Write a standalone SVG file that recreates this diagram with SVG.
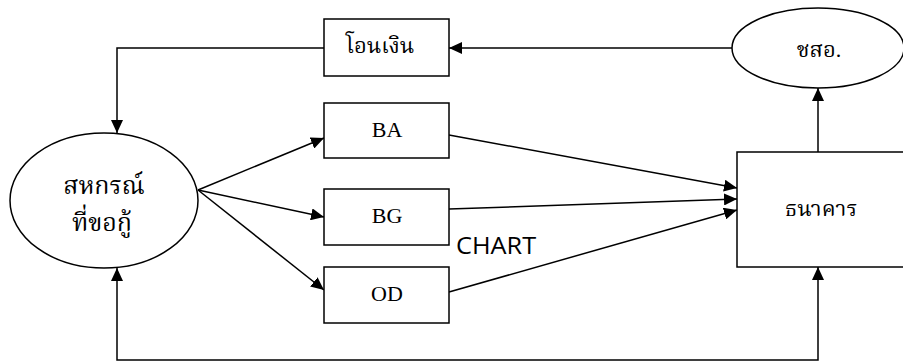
<svg xmlns="http://www.w3.org/2000/svg" width="903" height="363" viewBox="0 0 903 363">
<defs>
<marker id="ah" viewBox="0 0 13 12" refX="13" refY="6" markerWidth="13" markerHeight="12" markerUnits="userSpaceOnUse" orient="auto-start-reverse">
<path d="M0,0 L13,6 L0,12 Z" fill="#000"/>
</marker>
</defs>
<style>
.box{fill:#fff;stroke:#000;stroke-width:1.5}
.ln{fill:none;stroke:#000;stroke-width:1.5}
.th{font-family:"Liberation Serif","Noto Serif Thai","Kinnari","Norasi","Noto Sans",serif;font-size:22px;fill:#000;text-anchor:middle}
.en{font-family:"Liberation Serif",serif;font-size:22px;fill:#000;text-anchor:middle}
.lbl{font-family:"Open Sans","Noto Sans",sans-serif;font-size:23px;fill:#000}
</style>
<g id="connectors">
<path class="ln" d="M732,48 L449,48" marker-end="url(#ah)"/>
<path class="ln" d="M324,48 L117,48 L117,133" marker-end="url(#ah)"/>
<path class="ln" d="M198,190 L324,138" marker-end="url(#ah)"/>
<path class="ln" d="M198,190 L324,217" marker-end="url(#ah)"/>
<path class="ln" d="M198,190 L324,290" marker-end="url(#ah)"/>
<path class="ln" d="M449,135 L737,188" marker-end="url(#ah)"/>
<path class="ln" d="M449,209 L737,199" marker-end="url(#ah)"/>
<path class="ln" d="M449,292 L737,210" marker-end="url(#ah)"/>
<path class="ln" d="M818,152 L818,88" marker-end="url(#ah)"/>
<path class="ln" d="M117,268 L117,360 L818,360 L818,267" marker-start="url(#ah)" marker-end="url(#ah)"/>
</g>
<g id="transfer">
<rect class="box" x="324" y="19" width="125" height="57"/>
<text class="th" x="380" y="53">โอนเงิน</text>
</g>
<g id="ba">
<rect class="box" x="324" y="103" width="125" height="55"/>
<text class="en" x="387" y="137">BA</text>
</g>
<g id="bg">
<rect class="box" x="324" y="189" width="125" height="56"/>
<text class="en" x="387" y="223">BG</text>
</g>
<g id="od">
<rect class="box" x="324" y="267" width="125" height="56"/>
<text class="en" x="387" y="301">OD</text>
</g>
<g id="coop">
<ellipse class="box" cx="104" cy="200.5" rx="94" ry="67.5"/>
<text class="th" x="104" y="194" style="font-size:25px">สหกรณ์</text>
<text class="th" x="102" y="231" style="font-size:25px">ที่ขอกู้</text>
</g>
<g id="csa">
<ellipse class="box" cx="818" cy="48" rx="86" ry="40"/>
<text class="th" x="819" y="57">ชสอ.</text>
</g>
<g id="bank">
<rect class="box" x="737" y="152" width="175" height="115"/>
<text class="th" x="821" y="216">ธนาคาร</text>
</g>
<text class="lbl" transform="translate(456,254) scale(1.1,1)">CHART</text>
</svg>
